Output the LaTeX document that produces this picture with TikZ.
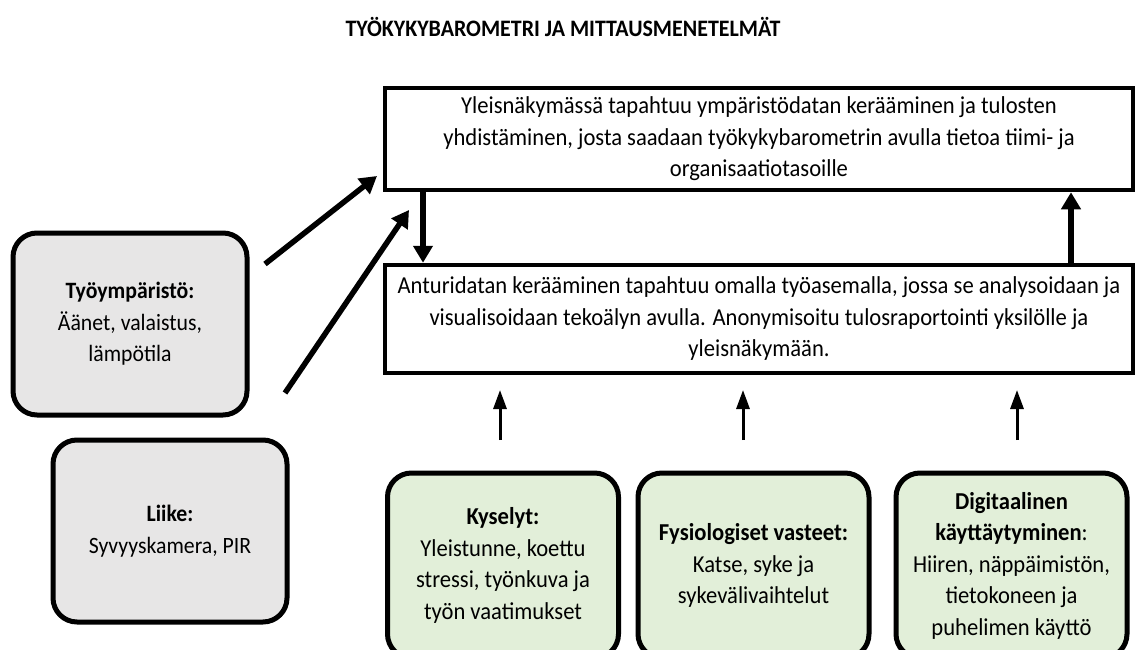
\documentclass[tikz,border=0pt]{standalone}
\usepackage{fontspec}
\setmainfont{Carlito}[FakeStretch=0.93]
\usetikzlibrary{arrows.meta,calc}
\definecolor{boxgray}{HTML}{E7E6E6}
\definecolor{boxgreen}{HTML}{E2EFD9}
\begin{document}
\begin{tikzpicture}[x=1pt,y=-1pt,
  bodyfont/.style={font=\fontsize{24.3}{31.5}\selectfont},
  plainbox/.style={draw,line width=4.5pt,fill=white,align=center,inner sep=0pt,bodyfont},
  roundbox/.style={plainbox,rounded corners=24pt,line width=5pt},
  graybox/.style={roundbox,fill=boxgray,minimum width=234pt,minimum height=182pt,
    font=\fontsize{23.4}{31.5}\selectfont},
  greenbox/.style={roundbox,fill=boxgreen,minimum width=231pt,minimum height=185pt},
  bigarrow/.style={line width=5.5pt,-{Triangle[length=17pt,width=19pt]}},
  smallarrow/.style={line width=3pt,-{Triangle[length=19pt,width=13pt]}}
]
\useasboundingbox (0,0) rectangle (1138,650);

% title
\node[font=\bfseries\fontsize{23.6}{28}\selectfont] (title) at (563,27)
  {TYÖKYKYBAROMETRI JA MITTAUSMENETELMÄT};

% overview level and workstation level
\node[plainbox,minimum width=748pt,minimum height=102pt] (top) at (759,139)
  {Yleisnäkymässä tapahtuu ympäristödatan kerääminen ja tulosten\\
   yhdistäminen, josta saadaan työkykybarometrin avulla tietoa tiimi- ja\\
   organisaatiotasoille};
\node[plainbox,minimum width=748pt,minimum height=108pt] (low) at (759,319)
  {Anturidatan kerääminen tapahtuu omalla työasemalla, jossa se analysoidaan ja\\
   visualisoidaan tekoälyn avulla. Anonymisoitu tulosraportointi yksilölle ja\\
   yleisnäkymään.};

% environment sensors
\node[graybox] (env) at (130,324)
  {\textbf{Työympäristö:}\\ Äänet, valaistus,\\ lämpötila};
\node[graybox] (move) at (170,531)
  {\textbf{Liike:}\\ Syvyyskamera, PIR};

% individual measurements
\node[greenbox] (survey) at (503,565.5)
  {\textbf{Kyselyt:}\\ Yleistunne, koettu\\ stressi, työnkuva ja\\ työn vaatimukset};
\node[greenbox] (phys) at (753.5,565.5)
  {\textbf{Fysiologiset vasteet:}\\ Katse, syke ja\\ sykevälivaihtelut};
\node[greenbox] (digi) at (1011.5,565.5)
  {\textbf{Digitaalinen}\\ \textbf{käyttäytyminen}:\\ Hiiren, näppäimistön,\\ tietokoneen ja\\ puhelimen käyttö};

% arrow end points
\coordinate (envout) at (265,264);
\coordinate (envin) at (377,176);
\coordinate (moveout) at (285,393);
\coordinate (movein) at (409,210);
\coordinate (s1) at (500,440); \coordinate (t1) at (500,390);
\coordinate (s2) at (743,440); \coordinate (t2) at (743,390);
\coordinate (s3) at (1017,440); \coordinate (t3) at (1017,390);

% connectors
\draw[bigarrow] (envout) -- (envin);
\draw[bigarrow] (moveout) -- (movein);
\draw[bigarrow] (top.south -| 423,0) -- (low.north -| 423,0);
\draw[bigarrow] (low.north -| 1071,0) -- (top.south -| 1071,0);
\draw[smallarrow] (s1) -- (t1);
\draw[smallarrow] (s2) -- (t2);
\draw[smallarrow] (s3) -- (t3);
\end{tikzpicture}
\end{document}
